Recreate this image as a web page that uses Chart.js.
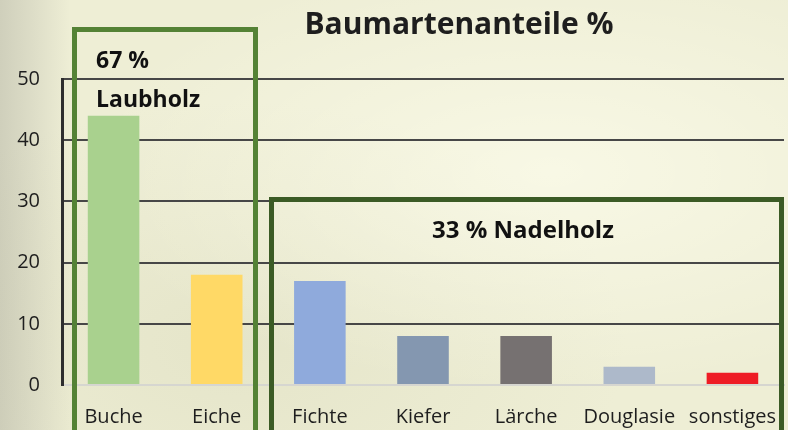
<!DOCTYPE html>
<html>
<head>
<meta charset="utf-8">
<script src="https://cdn.jsdelivr.net/npm/chart.js@4"></script>
<style>
  html, body { margin: 0; padding: 0; }
  body {
    width: 788px; height: 430px; overflow: hidden;
    background:
      linear-gradient(90deg, rgba(150,150,140,0.35) 0px, rgba(185,185,170,0.30) 35px, rgba(230,230,210,0) 70px),
      radial-gradient(ellipse at 70% 40%, rgba(255,255,240,0.6), rgba(255,255,240,0) 60%),
      radial-gradient(ellipse at 30% 80%, rgba(220,220,190,0.5), rgba(220,220,190,0) 50%),
      #eeeed5;
  }
  canvas { display: block; }
</style>
</head>
<body>
<canvas id="chart" width="788" height="430"></canvas>
<script>
// Baumarten und Anteile in %
const categories = ['Buche', 'Eiche', 'Fichte', 'Kiefer', 'Lärche', 'Douglasie', 'sonstiges'];
const shares = [44, 18, 17, 8, 8, 3, 2];
const barColors = ['#a9d18e', '#ffd966', '#8faadc', '#8497b0', '#767171', '#adb9ca', '#ee1c25'];
const yTicks = [0, 10, 20, 30, 40, 50];

const chartTitle = 'Baumartenanteile %';
const laubLabel = ['67 %', 'Laubholz'];
const nadelLabel = '33 % Nadelholz';

const FONT = '"Open Sans", "Noto Sans", sans-serif';

// title, group boxes and their labels
const overlay = {
    id: 'overlay',
    afterDraw(chart) {
        const ctx = chart.ctx;
        ctx.save();
        ctx.fillStyle = '#1e1e1e';
        ctx.textBaseline = 'middle';

        ctx.font = 'bold 30px ' + FONT;
        ctx.textAlign = 'center';
        ctx.fillText(chartTitle, 459, 25);

        ctx.lineWidth = 5;
        ctx.strokeStyle = '#548235';
        ctx.strokeRect(74.5, 29.5, 181, 420);
        ctx.strokeStyle = '#3b5b25';
        ctx.strokeRect(271.5, 199.5, 510, 260);

        ctx.fillStyle = '#111';
        ctx.font = 'bold 23px ' + FONT;
        ctx.textAlign = 'left';
        ctx.fillText(laubLabel[0], 96, 61);
        ctx.fillText(laubLabel[1], 96, 100);
        ctx.font = 'bold 24px ' + FONT;
        ctx.fillText(nadelLabel, 432, 231);
        ctx.restore();
    }
};

new Chart(document.getElementById('chart'), {
    type: 'bar',
    data: {
        labels: categories,
        datasets: [{
            label: chartTitle,
            data: shares,
            backgroundColor: barColors,
            borderWidth: 0,
            categoryPercentage: 1,
            barPercentage: 0.5
        }]
    },
    options: {
        responsive: false,
        animation: false,
        layout: { padding: { top: 79, right: 4, bottom: 0, left: 0 } },
        plugins: {
            legend: { display: false },
            tooltip: { enabled: false }
        },
        scales: {
            x: {
                grid: { display: false, drawTicks: false },
                border: { color: '#d6d6d0', width: 2 },
                ticks: { color: '#1e1e1e', padding: 20, font: { family: FONT, size: 20 } },
                afterFit(scale) {
                    scale.height = 45;
                    scale.paddingLeft = 0;
                    scale.paddingRight = 0;
                }
            },
            y: {
                min: 0,
                max: 50,
                afterBuildTicks(scale) { scale.ticks = yTicks.map(v => ({ value: v })); },
                grid: {
                    drawTicks: false,
                    lineWidth: 2,
                    color: ctx => ctx.tick && ctx.tick.value === 0 ? '#d6d6d0' : '#474747'
                },
                border: { color: '#2e2e2e', width: 3 },
                ticks: { color: '#1e1e1e', padding: 22, font: { family: FONT, size: 20 } },
                afterFit(scale) {
                    scale.width = 62;
                    scale.paddingTop = 0;
                    scale.paddingBottom = 0;
                }
            }
        }
    },
    plugins: [overlay]
});
</script>
</body>
</html>
